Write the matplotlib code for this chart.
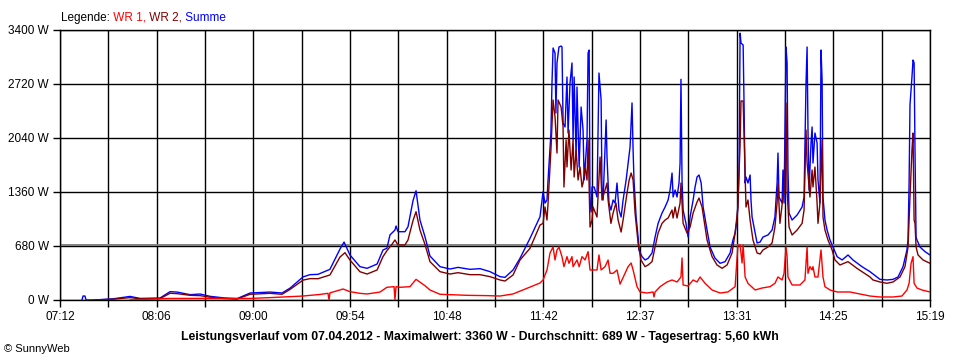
import numpy as np
import matplotlib.pyplot as plt

plt.rcParams['font.family'] = ['Liberation Sans', 'DejaVu Sans']
plt.rcParams['font.size'] = 8

# time axis: minutes after 07:12, power in W
summe_t = [12.3, 12.9, 14.0, 14.6, 19.0, 29.7, 39.2, 44.8, 56.0, 61.6, 65.5, 72.8, 78.4, 84.0, 92.4, 99.1,
           106.4, 117.6, 124.3, 128.8, 136.0, 139.9, 144.4, 151.1, 156.7, 159.0, 162.3, 167.9, 171.9, 177.5,
           180.8, 183.0, 184.7, 187.5, 188.1, 189.2, 193.1, 194.8, 197.6, 199.3, 201.5, 204.3, 207.1, 212.7,
           218.3, 222.8, 229.5, 235.1, 240.7, 246.3, 249.1, 253.6, 257.5, 263.1, 268.7, 270.4, 271.5, 272.6,
           273.2, 274.8, 275.4, 276.0, 277.1, 277.6, 278.2, 279.3, 280.5, 281.0, 281.6, 282.7, 283.8, 284.4,
           285.5, 286.6, 287.2, 287.8, 288.9, 289.4, 290.6, 291.7, 292.8, 293.4, 295.0, 295.6, 296.2, 296.7,
           297.3, 297.8, 299.0, 300.6, 301.7, 302.9, 303.4, 304.0, 305.7, 306.2, 307.3, 308.4, 309.6, 310.7,
           311.8, 312.9, 314.1, 315.2, 316.9, 318.0, 319.1, 320.2, 320.8, 321.3, 322.5, 323.6, 324.1, 325.8,
           327.5, 329.2, 331.4, 333.1, 334.8, 337.0, 338.7, 340.4, 341.5, 342.6, 343.2, 344.3, 345.4, 346.5,
           347.1, 347.6, 348.2, 348.8, 350.4, 351.6, 352.7, 354.4, 355.5, 356.6, 357.7, 358.9, 360.0, 362.2,
           363.9, 366.6, 369.5, 372.3, 375.1, 376.7, 377.9, 379.0, 379.5, 380.1, 380.7, 381.2, 382.4, 382.9,
           383.5, 384.0, 385.1, 386.3, 386.8, 387.4, 389.1, 390.2, 391.9, 393.5, 396.3, 398.6, 400.2, 401.4,
           401.9, 402.5, 404.2, 404.7, 405.3, 406.4, 407.0, 407.5, 408.1, 409.8, 412.6, 415.4, 416.5, 417.6,
           418.2, 418.7, 419.3, 420.4, 421.0, 421.5, 422.6, 423.8, 424.3, 425.4, 426.0, 426.6, 427.1, 428.2,
           429.4, 431.0, 432.7, 435.0, 437.8, 441.1, 443.9, 448.9, 453.4, 459.0, 462.9, 466.3, 469.1, 471.9,
           474.1, 474.7, 475.3, 475.8, 476.9, 477.5, 478.1, 478.6, 479.2, 479.7, 481.4, 484.2, 487.0]
summe_w = [0, 50, 50, 0, 0, 15, 45, 20, 25, 105, 100, 67, 75, 46, 25, 17,
           88, 100, 88, 150, 290, 319, 323, 386, 640, 730, 567, 420, 399, 453,
           630, 651, 819, 881, 932, 860, 860, 923, 1250, 1376, 1007, 797, 554, 420,
           390, 411, 386, 395, 357, 294, 285, 378, 525, 777, 1049, 1364, 1220, 1259,
           1511, 2100, 2733, 3173, 3110, 2355, 2985, 3186, 3198, 3186, 2229, 2179, 2808, 2103,
           2733, 2985, 2015, 2808, 1801, 2682, 1675, 2430, 2141, 1511, 2015, 3110, 3148, 1221,
           1108, 1423, 1423, 1297, 2858, 2519, 1385, 1259, 2267, 1801, 1221, 1133, 1259, 1221,
           1473, 1133, 1045, 1259, 1511, 1725, 1927, 2481, 1889, 1511, 1045, 793, 630, 546,
           504, 525, 592, 793, 965, 1095, 1171, 1259, 1385, 1599, 1297, 1385, 1297, 1473,
           1725, 2779, 1500, 1133, 965, 793, 1045, 1259, 1423, 1549, 1574, 1473, 1171, 881,
           667, 529, 462, 483, 592, 756, 843, 1007, 1221, 1637, 3360, 3236, 3211, 2481,
           1473, 1549, 1473, 1574, 1259, 1045, 843, 718, 730, 793, 819, 881, 1045, 1473,
           1851, 1297, 1221, 1637, 1221, 3186, 2985, 1637, 1095, 1007, 1070, 1171, 1297, 2733,
           3186, 2141, 1385, 1977, 2179, 1725, 2103, 1977, 1511, 1221, 3148, 2770, 1297, 1007,
           881, 756, 667, 546, 504, 567, 504, 420, 357, 260, 252, 260, 290, 420,
           630, 756, 1473, 2456, 2808, 3022, 2985, 1889, 793, 756, 667, 609, 567]

wr2_t = [19.0, 29.7, 39.2, 44.8, 56.0, 61.6, 65.5, 72.8, 78.4, 84.0, 92.4, 99.1, 106.4, 117.6, 124.3,
         128.8, 136.0, 139.9, 144.4, 151.1, 156.7, 159.5, 162.3, 167.9, 171.9, 177.5, 180.8, 183.0, 185.8,
         187.5, 189.2, 193.1, 194.8, 197.6, 199.3, 201.5, 204.3, 207.1, 212.7, 218.3, 222.8, 229.5, 235.1,
         240.7, 246.3, 249.1, 253.6, 257.5, 263.1, 268.7, 270.4, 271.5, 272.6, 273.2, 274.8, 276.0, 277.1,
         278.2, 278.8, 280.5, 281.6, 282.1, 283.3, 283.8, 284.9, 286.1, 287.2, 287.8, 288.9, 290.0, 291.1,
         292.2, 292.8, 293.9, 295.0, 295.6, 296.7, 297.8, 298.4, 300.6, 302.3, 303.4, 305.1, 306.2, 306.8,
         308.4, 309.6, 311.2, 312.4, 314.1, 315.2, 317.4, 318.6, 319.7, 320.8, 321.9, 323.0, 323.6, 325.2,
         327.5, 329.2, 331.4, 333.1, 334.8, 337.0, 338.7, 340.4, 342.6, 343.2, 344.3, 345.4, 347.1, 347.6,
         348.8, 351.0, 352.7, 354.4, 356.6, 357.7, 359.4, 362.2, 365.0, 367.8, 370.6, 373.4, 376.2, 377.9,
         379.5, 380.1, 380.7, 381.2, 382.4, 382.9, 384.0, 385.1, 386.3, 387.9, 390.2, 391.9, 393.5, 396.3,
         398.6, 400.2, 401.4, 401.9, 403.0, 404.7, 405.8, 406.4, 407.0, 408.1, 409.8, 412.6, 415.4, 416.5,
         417.6, 418.2, 419.3, 419.8, 421.0, 421.5, 422.6, 423.8, 424.3, 425.4, 426.6, 427.1, 428.2, 429.9,
         432.2, 433.8, 436.6, 441.1, 446.1, 453.4, 455.1, 459.0, 462.9, 466.3, 470.2, 473.0, 474.7, 475.8,
         476.9, 477.5, 478.1, 478.6, 479.2, 480.3, 483.1, 487.0]
wr2_w = [0, 10, 30, 15, 18, 85, 80, 59, 55, 35, 18, 12, 72, 84, 72,
         134, 250, 269, 268, 315, 540, 596, 504, 356, 327, 378, 546, 621, 700,
         756, 693, 693, 756, 1000, 1112, 881, 700, 483, 357, 327, 344, 319, 319,
         294, 252, 239, 315, 504, 651, 944, 965, 1171, 1007, 1221, 1889, 2519, 2308,
         1851, 2519, 2430, 2179, 1423, 2015, 1675, 2141, 1637, 2015, 1549, 1889, 1511, 1675,
         1423, 1473, 1675, 1511, 2015, 919, 1007, 1171, 1045, 1801, 1259, 1385, 1473, 1259,
         965, 1095, 1221, 1007, 856, 1007, 1347, 1511, 1599, 1511, 1095, 844, 718, 504,
         420, 441, 483, 667, 843, 965, 1007, 1032, 1133, 1032, 1171, 1032, 1221, 1473,
         965, 843, 919, 1095, 1234, 1284, 1171, 756, 546, 441, 399, 441, 592, 843,
         1171, 1612, 1952, 2506, 2506, 2103, 1171, 1259, 1007, 756, 592, 579, 630, 667,
         718, 919, 1221, 1473, 965, 1297, 1385, 2481, 1385, 919, 819, 881, 965, 1133,
         2141, 1725, 1423, 1297, 1637, 1423, 1675, 1221, 965, 1221, 2015, 1045, 881, 756,
         630, 504, 441, 483, 399, 290, 252, 227, 210, 227, 290, 420, 667, 1297,
         1889, 2103, 1007, 965, 667, 567, 504, 462]

wr1_t = [39.2, 61.6, 106.4, 117.6, 128.8, 136.0, 145.5, 150.0, 150.6, 151.1, 156.7, 158.4, 162.3, 167.9,
         171.9, 179.1, 183.0, 187.0, 187.5, 188.1, 190.3, 195.9, 199.3, 204.3, 207.1, 212.7, 227.8, 239.0,
         246.3, 253.6, 261.4, 268.7, 270.4, 272.6, 274.3, 276.0, 277.1, 278.2, 279.3, 281.0, 282.1, 283.8,
         284.9, 286.6, 287.2, 289.4, 290.6, 292.2, 293.9, 295.6, 296.7, 298.4, 300.6, 301.7, 302.9, 305.1,
         306.8, 307.9, 309.6, 311.8, 313.5, 316.3, 318.0, 319.7, 320.8, 323.0, 324.7, 328.6, 332.0, 332.5,
         333.1, 335.9, 339.8, 342.6, 345.4, 347.6, 348.2, 348.8, 351.6, 354.4, 356.6, 358.3, 361.1, 365.0,
         369.5, 373.9, 377.9, 379.5, 380.7, 381.8, 382.4, 383.5, 385.1, 389.1, 393.0, 397.5, 400.2, 401.9,
         404.2, 405.3, 406.4, 407.0, 407.5, 409.8, 414.2, 417.0, 418.2, 418.7, 419.8, 421.0, 421.5, 422.6,
         424.3, 426.0, 427.1, 428.2, 431.0, 435.0, 442.2, 453.4, 459.0, 466.3, 471.3, 474.1, 475.3, 476.4,
         477.5, 478.1, 479.7, 482.5, 487.0]
wr1_w = [0, 20, 20, 30, 42, 50, 70, 84, 0, 90, 126, 139, 105, 84,
         76, 100, 160, 168, 0, 168, 160, 168, 260, 180, 126, 72, 59, 55,
         50, 76, 147, 214, 252, 378, 592, 667, 504, 630, 667, 546, 420, 546,
         462, 546, 420, 504, 420, 546, 504, 609, 378, 378, 378, 567, 378, 420,
         504, 336, 336, 378, 200, 336, 420, 466, 378, 168, 101, 88, 101, 38,
         101, 168, 227, 252, 227, 290, 529, 189, 176, 252, 227, 290, 210, 126,
         88, 101, 168, 693, 693, 466, 693, 290, 210, 126, 151, 168, 210, 290,
         252, 336, 667, 546, 290, 189, 189, 252, 667, 336, 420, 378, 420, 290,
         290, 630, 290, 168, 126, 101, 101, 50, 38, 38, 50, 126, 210, 462,
         546, 210, 151, 126, 101]

time_labels = ["07:12", "08:06", "09:00", "09:54", "10:48", "11:42", "12:37", "13:31", "14:25", "15:19"]
power_ticks = [0, 680, 1360, 2040, 2720, 3400]
day_span = 487      # minutes 07:12 -> 15:19
average_w = 689
title = "Leistungsverlauf vom 07.04.2012 - Maximalwert: 3360 W - Durchschnitt: 689 W - Tagesertrag: 5,60 kWh"

fig = plt.figure(figsize=(9.6, 3.6), dpi=100)
ax = fig.add_axes([60 / 960, 60 / 360, 870 / 960, 270 / 360])

# grid
grid_x = np.linspace(0, day_span, 19)
for gx in grid_x:
    ax.axvline(gx, color="black", lw=1, zorder=1)
for gy in power_ticks:
    ax.axhline(gy, color="black", lw=1, zorder=1)
ax.axhline(average_w, color="#808080", lw=1.4, zorder=1.5)

ax.plot(summe_t, summe_w, color="#0000ff", lw=1, zorder=3)
ax.plot(wr2_t, wr2_w, color="#800000", lw=1, zorder=4)
ax.plot(wr1_t, wr1_w, color="#ff0000", lw=1, zorder=5)

ax.set_xlim(0, day_span)
ax.set_ylim(0, 3400)
x_labels = []
for i in range(len(grid_x)):
    x_labels.append(time_labels[i // 2] if i % 2 == 0 else "")
ax.set_xticks(grid_x)
ax.set_xticklabels(x_labels)
ax.set_yticks(power_ticks)
ax.set_yticklabels([f"{v} W" for v in power_ticks])
ax.tick_params(direction="out", length=5, width=1, color="black", labelsize=8.5, pad=3)
for sp in ax.spines.values():
    sp.set_color("black")
    sp.set_linewidth(1)

# legend line on top
leg = fig.text(61 / 960, 1 - 24 / 360, "Legende:", color="black", fontsize=8.5, va="bottom")
for txt, col in [(" WR 1,", "#ff0000"), (" WR 2,", "#800000"), (" Summe", "#0000ff")]:
    leg = ax.annotate(txt, xy=(1, 0), xycoords=leg, va="bottom", ha="left", color=col, fontsize=8.5,
                      annotation_clip=False)

fig.text(0.5, 1 - 337 / 360, title, ha="center", va="center", fontsize=8.8, fontweight="bold")
fig.text(4 / 960, 1 - 349 / 360, "© SunnyWeb", ha="left", va="center", fontsize=8)

fig.savefig("out.png", dpi=100)
